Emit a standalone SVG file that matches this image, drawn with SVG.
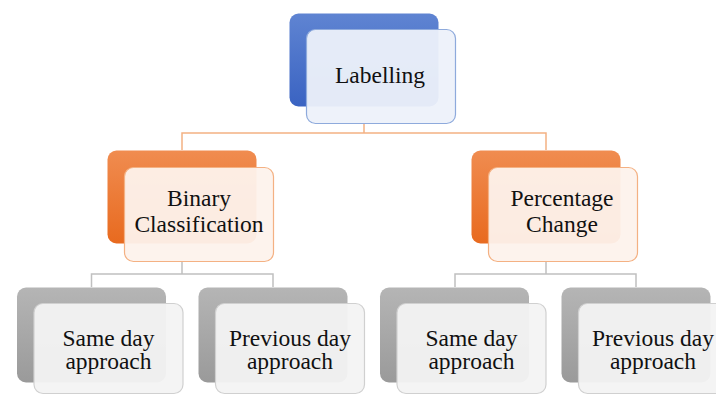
<svg xmlns="http://www.w3.org/2000/svg" width="716" height="396" viewBox="0 0 716 396">
<defs>
<linearGradient id="gb" x1="0" y1="0" x2="0" y2="1"><stop offset="0" stop-color="#5f84d2"/><stop offset="1" stop-color="#3a63c2"/></linearGradient>
<linearGradient id="go" x1="0" y1="0" x2="0" y2="1"><stop offset="0" stop-color="#f08c50"/><stop offset="1" stop-color="#e86a1f"/></linearGradient>
<linearGradient id="gg" x1="0" y1="0" x2="0" y2="1"><stop offset="0" stop-color="#b5b5b5"/><stop offset="1" stop-color="#9a9a9a"/></linearGradient>
</defs>
<style>
.t{font-family:"Liberation Serif","Times New Roman",serif;font-size:23.5px;fill:#111;text-anchor:middle}
.fb{fill:#edf1fa;fill-opacity:0.95;stroke:#8eaadc;stroke-width:1.2}
.fo{fill:#fdf2ec;fill-opacity:0.95;stroke:#f4b183;stroke-width:1.2}
.fg{fill:#f3f3f3;fill-opacity:0.95;stroke:#d0d0d0;stroke-width:1.2}
.co{fill:none;stroke:#f4b183;stroke-width:1.5}
.cg{fill:none;stroke:#c0c0c0;stroke-width:1.5}
</style>
<g id="connectors">
<path class="co" d="M364 124V133M182 150V133H546V150"/>
<path class="cg" d="M182 261V274M91.5 287V274H273V287M546 261V274M455 287V274H636V287"/>
</g>
<g id="labelling">
<rect x="289.5" y="13.5" width="149" height="93" rx="9" fill="url(#gb)"/>
<rect class="fb" x="306.5" y="29.5" width="149" height="94" rx="9"/>
<text class="t" x="380" y="83" font-size="24">Labelling</text>
</g>
<g id="binary">
<rect x="107.5" y="150.5" width="149" height="93" rx="9" fill="url(#go)"/>
<rect class="fo" x="124.5" y="167.5" width="149" height="94" rx="9"/>
<text class="t" x="199" y="206">Binary</text>
<text class="t" x="199" y="232">Classification</text>
</g>
<g id="percentage">
<rect x="471.5" y="150.5" width="149" height="93" rx="9" fill="url(#go)"/>
<rect class="fo" x="488.5" y="167.5" width="149" height="94" rx="9"/>
<text class="t" x="562" y="206">Percentage</text>
<text class="t" x="562" y="232">Change</text>
</g>
<g id="same1">
<rect x="17" y="287.5" width="149" height="95" rx="9" fill="url(#gg)"/>
<rect class="fg" x="34" y="303.5" width="149" height="90" rx="9"/>
<text class="t" x="108.5" y="346">Same day</text>
<text class="t" x="108.5" y="369">approach</text>
</g>
<g id="prev1">
<rect x="198.5" y="287.5" width="149" height="95" rx="9" fill="url(#gg)"/>
<rect class="fg" x="215.5" y="303.5" width="149" height="90" rx="9"/>
<text class="t" x="290" y="346">Previous day</text>
<text class="t" x="290" y="369">approach</text>
</g>
<g id="same2">
<rect x="380" y="287.5" width="149" height="95" rx="9" fill="url(#gg)"/>
<rect class="fg" x="397" y="303.5" width="149" height="90" rx="9"/>
<text class="t" x="471.5" y="346">Same day</text>
<text class="t" x="471.5" y="369">approach</text>
</g>
<g id="prev2">
<rect x="561.5" y="287.5" width="149" height="95" rx="9" fill="url(#gg)"/>
<rect class="fg" x="578.5" y="303.5" width="149" height="90" rx="9"/>
<text class="t" x="653" y="346">Previous day</text>
<text class="t" x="653" y="369">approach</text>
</g>
</svg>
